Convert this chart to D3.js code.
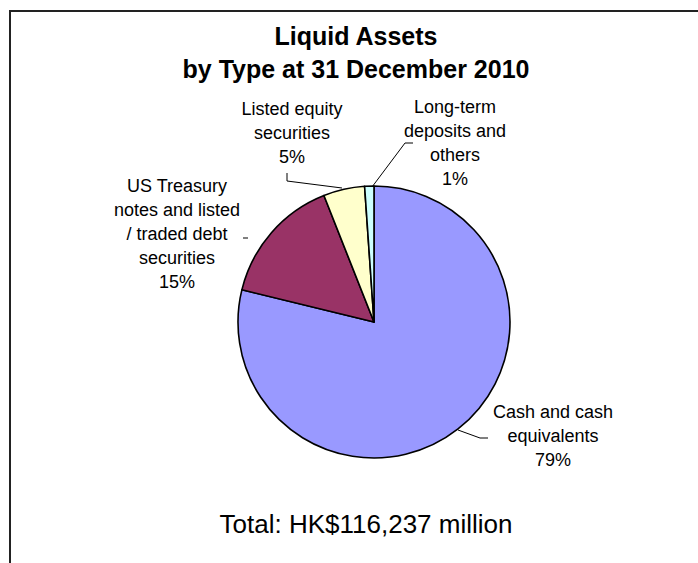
<!DOCTYPE html>
<html>
<head>
<meta charset="utf-8">
<script src="https://cdn.jsdelivr.net/npm/d3@7"></script>
<style>
  body { margin: 0; background: #fff; }
  svg { display: block; font-family: "Liberation Sans", Arial, sans-serif; }
</style>
</head>
<body>
<div id="chart"></div>
<script>
// data
var categories = ["Cash and cash equivalents", "US Treasury notes and listed / traded debt securities", "Listed equity securities", "Long-term deposits and others"];
var shares = [78.8, 15.2, 4.9, 1.1];
var percentLabels = ["79%", "15%", "5%", "1%"];
var labelLines = [
    ["Cash and cash", "equivalents"],
    ["US Treasury", "notes and listed", "/ traded debt", "securities"],
    ["Listed equity", "securities"],
    ["Long-term", "deposits and", "others"]
];
var colors = ["#9999ff", "#993366", "#ffffcc", "#ccffff"];
var titleLines = ["Liquid Assets", "by Type at 31 December 2010"];
var totalText = "Total: HK$116,237 million";

var width = 698, height = 563;
var cx = 374, cy = 322, radius = 136;

var svg = d3.select("#chart").append("svg")
    .attr("width", width).attr("height", height);

// frame (only top and left edges show in the crop)
svg.append("path")
    .attr("d", "M10," + height + "V11H" + width)
    .attr("fill", "none").attr("stroke", "#222").attr("stroke-width", 2);

// title
svg.append("g").selectAll("text")
    .data(titleLines)
    .enter().append("text")
    .attr("x", 356)
    .attr("y", function (d, i) { return 45 + i * 33; })
    .attr("text-anchor", "middle")
    .attr("font-size", 25).attr("font-weight", "bold")
    .text(function (d) { return d; });

var data = categories.map(function (c, i) {
    return { name: c, value: shares[i], color: colors[i], lines: labelLines[i].concat([percentLabels[i]]) };
});

var pie = d3.pie().sort(null).value(function (d) { return d.value; });
var arc = d3.arc().innerRadius(0).outerRadius(radius);
var arcs = pie(data);

var g = svg.append("g").attr("transform", "translate(" + cx + "," + cy + ")");

g.selectAll("path.slice")
    .data(arcs)
    .enter().append("path")
    .attr("class", "slice")
    .attr("d", arc)
    .attr("fill", function (d) { return d.data.color; })
    .attr("stroke", "#000").attr("stroke-width", 1.6)
    .attr("stroke-linejoin", "round");

// label block centres (relative to pie centre) and leader lines
var labelPos = [
    { x: 179, y: 114, line: [[84, 108], [106, 116], [114, 116]] },
    { x: -197, y: -88, line: [[-126, -84], [-131, -84]] },
    { x: -82, y: -189, line: [[-32, -134], [-87, -141], [-87, -149]] },
    { x: 81, y: -179, line: [[-2, -135], [31, -179], [39, -179]] }
];

var lineH = 23.8;
var labels = svg.append("g");
arcs.forEach(function (a, i) {
    var p = labelPos[i];
    var n = a.data.lines.length;
    labels.append("g").selectAll("text")
        .data(a.data.lines)
        .enter().append("text")
        .attr("x", cx + p.x)
        .attr("y", function (d, k) { return cy + p.y + (k - (n - 1) / 2) * lineH + 6; })
        .attr("text-anchor", "middle")
        .attr("font-size", 18)
        .attr("fill", "#000")
        .text(function (d) { return d; });
    g.append("path")
        .attr("d", d3.line()(p.line))
        .attr("fill", "none").attr("stroke", "#000").attr("stroke-width", 1);
});

svg.append("text")
    .attr("x", 366).attr("y", 533)
    .attr("text-anchor", "middle")
    .attr("font-size", 26)
    .text(totalText);
</script>
</body>
</html>
